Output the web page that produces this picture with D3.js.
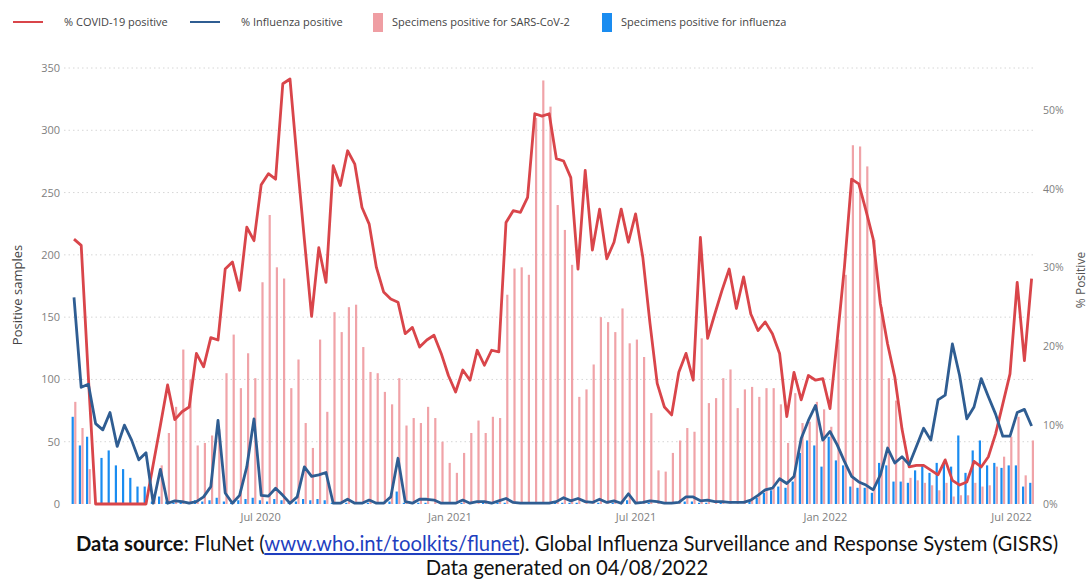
<!DOCTYPE html>
<html>
<head>
<meta charset="utf-8">
<script src="https://cdn.jsdelivr.net/npm/d3@7"></script>
<style>
  body { margin: 0; background: #fff; }
  svg { display: block; font-family: "Open Sans", "Noto Sans", sans-serif; }
</style>
</head>
<body>
<svg id="chart" width="1089" height="580"></svg>
<script>
// weekly FluNet data, first week starting 2 Jan 2020
var weekStart = "2020-01-02";

// specimens positive for SARS-CoV-2
var sarsPositive = [82,61,28,0,0,0,0,0,0,0, 0,8,31,57,78,124,100,47,49,55,
  60,105,136,93,121,101,178,232,190,181, 93,116,65,45,132,74,154,138,158,160,
  126,106,105,90,80,101,63,69,65,78, 69,50,33,25,41,57,67,57,70,69,
  168,189,190,184,310,340,319,240,220,192, 86,92,112,150,146,138,157,129,132,118,
  73,27,26,41,51,61,58,133,81,85, 101,108,77,92,94,86,93,93,80,49,
  89,65,66,82,76,62,132,184,288,287, 271,212,158,101,83,35,21,19,17,15,
  11,17,6,7,7,17,14,15,30,38, 54,70,23,51];

// specimens positive for influenza
var fluPositive = [70,47,54,0,37,43,31,28,21,14, 14,2,6,2,1,2,1,3,2,3,
  5,2,1,3,4,5,3,2,4,3, 1,2,4,3,4,3,1,0,1,0,
  0,1,0,0,2,10,1,0,1,1, 0,0,0,0,1,0,0,1,0,1,
  1,0,0,0,0,0,0,1,1,1, 1,0,0,1,0,1,0,3,0,0,
  1,0,0,0,0,2,2,1,1,0, 1,0,0,0,3,5,9,11,14,13,
  18,41,51,47,30,54,35,31,14,13, 13,9,33,31,18,18,17,27,31,25,
  33,33,30,55,25,43,51,31,33,29, 31,31,14,17];

// % COVID-19 positive
var covidPct = [33.6,32.8,16,0,0,0,0,0,0,0, 0,5,10,15.1,10.7,11.7,12.3,19.1,17.4,21.1,
  20.8,29.8,30.7,27.1,35.1,33.4,40.5,41.9,41.2,53.3, 53.9,43.5,33.5,23.8,32.5,28.1,42.9,40.4,44.8,43.1,
  37.6,35.5,30.0,26.9,26.0,25.6,21.6,22.4,19.9,20.8, 21.4,19.1,16.3,14.2,17.0,15.7,19.5,17.6,19.5,19.3,
  35.7,37.2,37.0,38.9,49.5,49.2,49.5,43.8,43.5,41.4, 29.8,42.3,32.2,37.4,31.1,33.2,37.4,33.2,36.8,31.3,
  22.9,15.3,12.3,11.3,16.7,19.1,15.7,33.8,21.0,24.1, 27.1,29.8,24.8,28.8,24.1,22.0,23.1,21.6,19.1,11.1,
  16.7,13.2,16.3,15.7,15.9,12.1,20.8,30.0,41.2,40.6, 37.2,33.6,25.4,20.3,16.1,9.5,4.7,4.9,4.9,4.3,
  3.7,5.6,3.0,2.4,2.8,5.4,4.7,6.0,8.9,12.7, 16.5,28.1,18.2,28.6];

// % influenza positive
var fluPct = [26.2,14.8,15.2,10.2,9.4,11.6,7.3,10.0,8.1,5.6, 6.5,0.1,4.4,0.1,0.4,0.3,0.1,0.3,0.9,2.2,
  10.6,1.4,0.1,1.1,4.7,10.8,1.1,1.0,2.0,1.1, 0.1,0.9,4.7,3.5,3.7,4.0,0.1,0.1,0.6,0.1,
  0.1,0.5,0.1,0.1,0.9,5.8,0.3,0.1,0.6,0.6, 0.5,0.1,0.1,0.1,0.5,0.1,0.3,0.3,0.1,0.4,
  0.7,0.2,0.1,0.1,0.1,0.1,0.1,0.3,0.8,0.4, 0.7,0.3,0.2,0.6,0.2,0.4,0.1,1.3,0.1,0.2,
  0.4,0.3,0.1,0.1,0.2,0.9,0.9,0.4,0.5,0.3, 0.3,0.2,0.2,0.2,0.5,1.1,1.8,2.0,3.2,2.6,
  3.5,8.3,10.6,12.5,8.1,9.2,7.5,5.4,3.5,2.8, 2.4,1.8,3.7,7.1,5.2,6.0,5.0,7.3,9.6,8.1,
  13.2,13.8,20.3,16.3,10.8,12.3,15.9,13.6,11.4,8.6, 8.6,11.6,12.0,9.9];

var leftTicks = [0, 50, 100, 150, 200, 250, 300, 350];
var rightTicks = [0, 0.1, 0.2, 0.3, 0.4, 0.5];
var monthTicks = ["2020-07-01", "2021-01-01", "2021-07-01", "2022-01-01", "2022-07-01"];

var legendItems = [
  {label: "% COVID-19 positive", type: "line", color: "#d9454a", x: 13},
  {label: "% Influenza positive", type: "line", color: "#2f5d92", x: 190},
  {label: "Specimens positive for SARS-CoV-2", type: "rect", color: "#ef9ea3", x: 373},
  {label: "Specimens positive for influenza", type: "rect", color: "#1a8cf0", x: 602}
];

var svg = d3.select("#chart");
var parse = d3.timeParse("%Y-%m-%d");
var start = parse(weekStart);
var n = sarsPositive.length;
var weeks = d3.range(n).map(function(i){ return d3.timeDay.offset(start, 7*i); });

// scales
var x = d3.scaleBand().domain(d3.range(n)).range([70.4, 1035.2]);
var bw = x.bandwidth();
var cx = function(i){ return x(i) + bw/2; };
var xt = d3.scaleTime().domain([weeks[0], weeks[n-1]]).range([cx(0), cx(n-1)]);
var yL = d3.scaleLinear().domain([0, 350]).range([504, 68]);
var yR = d3.scaleLinear().domain([0, 0.553]).range([504, 68]);

// gridlines
svg.append("g")
  .selectAll("line")
  .data(leftTicks.slice(1))
  .enter().append("line")
  .attr("x1", 64).attr("x2", 1036)
  .attr("y1", function(d){ return yL(d); })
  .attr("y2", function(d){ return yL(d); })
  .attr("stroke", "#d6d6d6")
  .attr("stroke-width", 1)
  .attr("stroke-dasharray", "1.5,3");

// bars
var bars = svg.append("g");
bars.selectAll(".flu")
  .data(fluPositive)
  .enter().append("rect")
  .attr("x", function(d, i){ return cx(i) - 2.4; })
  .attr("width", 2.2)
  .attr("y", function(d){ return yL(d); })
  .attr("height", function(d){ return yL(0) - yL(d); })
  .attr("fill", "#1a8cf0");
bars.selectAll(".sars")
  .data(sarsPositive)
  .enter().append("rect")
  .attr("x", function(d, i){ return cx(i) + 0.2; })
  .attr("width", 2.2)
  .attr("y", function(d){ return yL(d); })
  .attr("height", function(d){ return yL(0) - yL(d); })
  .attr("fill", "#f0a3a8");

// lines
var pctLine = d3.line()
  .x(function(d, i){ return cx(i); })
  .y(function(d){ return yR(d/100); });

svg.append("path")
  .datum(covidPct)
  .attr("d", pctLine)
  .attr("fill", "none")
  .attr("stroke", "#d9454a")
  .attr("stroke-width", 2.8)
  .attr("stroke-linejoin", "round");

svg.append("path")
  .datum(fluPct)
  .attr("d", pctLine)
  .attr("fill", "none")
  .attr("stroke", "#2f5d92")
  .attr("stroke-width", 2.8)
  .attr("stroke-linejoin", "round");

// axes
var left = svg.append("g")
  .attr("transform", "translate(62,0)")
  .call(d3.axisLeft(yL).tickValues(leftTicks).tickSize(0).tickPadding(2));
left.select(".domain").remove();
left.selectAll("text").attr("fill", "#808080").style("font-size", "11px").style("font-family", "Open Sans");

var right = svg.append("g")
  .attr("transform", "translate(1041,0)")
  .call(d3.axisRight(yR).tickValues(rightTicks).tickSize(0).tickPadding(2).tickFormat(d3.format(".0%")));
right.select(".domain").remove();
right.selectAll("text").attr("fill", "#808080").style("font-size", "10.5px").style("font-family", "Open Sans");

var bottom = svg.append("g")
  .attr("transform", "translate(0,504)")
  .call(d3.axisBottom(xt).tickValues(monthTicks.map(parse)).tickSize(0).tickPadding(9).tickFormat(d3.timeFormat("%b %Y")));
bottom.select(".domain").remove();
bottom.selectAll("text").attr("fill", "#808080").style("font-size", "11px").style("font-family", "Open Sans");

// axis titles
svg.append("text")
  .attr("transform", "translate(22,295) rotate(-90)")
  .attr("text-anchor", "middle")
  .style("font-size", "13px")
  .attr("fill", "#444")
  .text("Positive samples");

svg.append("text")
  .attr("transform", "translate(1085,280) rotate(-90)")
  .attr("text-anchor", "middle")
  .style("font-size", "12px")
  .attr("fill", "#555")
  .text("% Positive");

// legend
var legend = svg.append("g");
legendItems.forEach(function(d){
  if (d.type == "line") {
    legend.append("line")
      .attr("x1", d.x).attr("x2", d.x + 30)
      .attr("y1", 22).attr("y2", 22)
      .attr("stroke", d.color).attr("stroke-width", 2);
    legend.append("text")
      .attr("x", d.x + 51).attr("y", 25.5)
      .style("font-size", "11px").attr("fill", "#444")
      .text(d.label);
  } else {
    legend.append("rect")
      .attr("x", d.x).attr("y", 13).attr("width", 10).attr("height", 19)
      .attr("fill", d.color);
    legend.append("text")
      .attr("x", d.x + 19).attr("y", 25.5)
      .style("font-size", "11px").attr("fill", "#444")
      .text(d.label);
  }
});

// footer
var src = svg.append("text")
  .attr("x", 567).attr("y", 551)
  .attr("text-anchor", "middle")
  .style("font-family", "Lato, 'Open Sans', sans-serif")
  .style("font-size", "16px")
  .attr("fill", "#111");
src.append("tspan").style("font-weight", "bold").text("Data source");
src.append("tspan").text(": FluNet (");
src.append("tspan").attr("fill", "#1f3fbf").style("text-decoration", "underline").text("www.who.int/toolkits/flunet");
src.append("tspan").text("). Global Influenza Surveillance and Response System (GISRS)");

var gen = svg.append("text")
  .attr("x", 567).attr("y", 575)
  .attr("text-anchor", "middle")
  .style("font-family", "Lato, 'Open Sans', sans-serif")
  .style("font-size", "16px")
  .attr("fill", "#111")
  .text("Data generated on 04/08/2022");

// squeeze footer to the width of the original line
var w = src.node().getComputedTextLength();
var fs = 16 * 983 / w;
src.style("font-size", fs + "px");
gen.style("font-size", fs + "px");
</script>
</body>
</html>
